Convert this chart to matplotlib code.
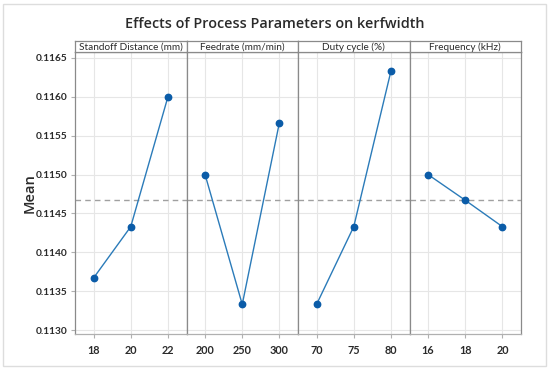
import numpy as np
import matplotlib.pyplot as plt
from matplotlib.patches import Rectangle

plt.rcParams['font.family'] = ['Lato', 'DejaVu Sans']

factors = ["Standoff Distance (mm)", "Feedrate (mm/min)", "Duty cycle (%)", "Frequency (kHz)"]
levels = [["18", "20", "22"], ["200", "250", "300"], ["70", "75", "80"], ["16", "18", "20"]]
means = [
    [0.11367, 0.11433, 0.11600],
    [0.11500, 0.11333, 0.11567],
    [0.11333, 0.11433, 0.11633],
    [0.11500, 0.11467, 0.11433],
]
grand_mean = 0.114667
yticks = [0.1130, 0.1135, 0.1140, 0.1145, 0.1150, 0.1155, 0.1160, 0.1165]

W, H = 550, 370
fig = plt.figure(figsize=(W / 100, H / 100), dpi=100)
fig.patch.set_facecolor("white")

# light frame round the whole picture
fig.add_artist(Rectangle((3 / W, 4 / H), 543 / W, 362 / H, transform=fig.transFigure,
                         fill=False, edgecolor="#dddddd", lw=1))

fig.text(0.5, 1 - 23.5 / H, "Effects of Process Parameters on kerfwidth",
         ha="center", va="center", fontsize=10.4, fontweight="semibold", color="#2a2a2a",
         family=["Open Sans", "DejaVu Sans"])

left, right = 75, 521
top, strip_bot, bottom = 41, 52, 334
pw = (right - left) / 4
spine_col = "#8a8a8a"
txt = "#2a2a2a"

axes = []
for i in range(4):
    x0 = left + i * pw
    ax = fig.add_axes([x0 / W, 1 - bottom / H, pw / W, (bottom - strip_bot) / H])
    x = np.arange(3)
    ax.plot(x, means[i], color="#2b7bb9", lw=1.0, zorder=3)
    ax.plot(x, means[i], "o", color="#0b5ca8", ms=4.6, zorder=4)
    ax.axhline(grand_mean, color="#a0a0a0", ls="--", lw=1.0, dashes=(4, 3), zorder=2)
    ax.set_xlim(-0.5, 2.5)
    ax.set_ylim(0.112949, 0.116577)
    ax.set_xticks(x)
    ax.set_xticklabels(levels[i])
    ax.set_yticks(yticks)
    ax.grid(True, color="#e6e6e6", lw=0.8, zorder=0)
    ax.set_axisbelow(True)
    for s in ax.spines.values():
        s.set_color(spine_col)
        s.set_linewidth(0.9)
    ax.spines["bottom"].set_color("#b0b0b0")
    ax.tick_params(axis="x", length=3, color="#b0b0b0", labelsize=7.8, labelcolor=txt, pad=5)
    if i == 0:
        ax.set_yticklabels([f"{v:.4f}" for v in yticks], fontweight="bold")
        ax.tick_params(axis="y", length=3, color="#b0b0b0", labelsize=7.3, labelcolor=txt, pad=2.5)
        ax.set_ylabel("Mean", fontsize=10.5, color=txt, fontweight="semibold",
                      family=["Open Sans", "DejaVu Sans"])
        ax.yaxis.set_label_coords(-0.34, 0.5)
    else:
        ax.tick_params(axis="y", length=0, labelleft=False)
    for lab in ax.get_xticklabels():
        lab.set_fontweight("bold")

    sx = fig.add_axes([x0 / W, 1 - strip_bot / H, pw / W, (strip_bot - top) / H])
    sx.set_xticks([])
    sx.set_yticks([])
    for s in sx.spines.values():
        s.set_color(spine_col)
        s.set_linewidth(0.9)
    sx.text(0.5, 0.45, factors[i], ha="center", va="center", fontsize=7.2,
            color=txt, transform=sx.transAxes)
    axes.append(ax)

fig.savefig("out.png", dpi=100)
